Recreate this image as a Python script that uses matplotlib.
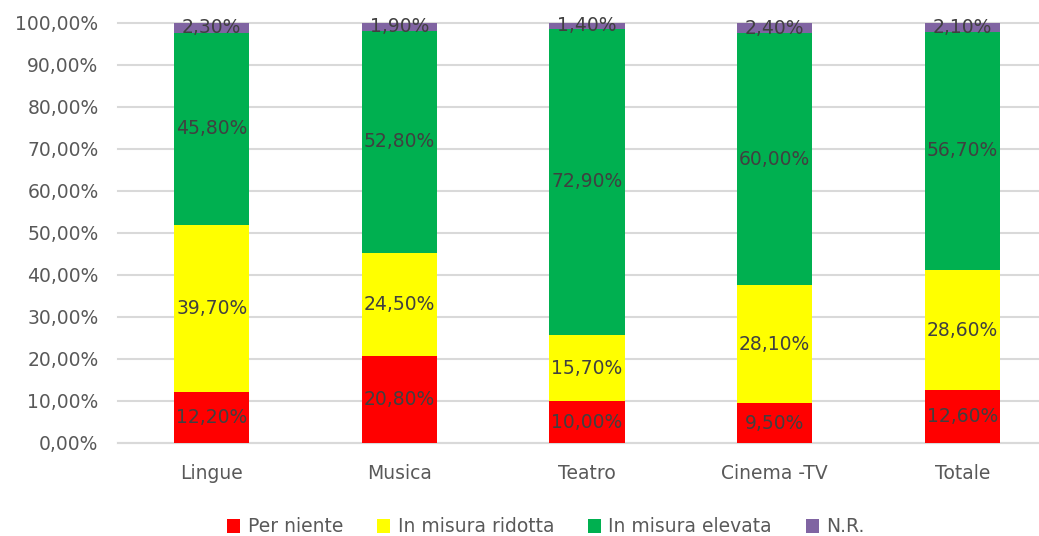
import numpy as np
import matplotlib.pyplot as plt

categories = ["Lingue", "Musica", "Teatro", "Cinema -TV", "Totale"]
series_names = ["Per niente", "In misura ridotta", "In misura elevata", "N.R."]
per_niente = [12.2, 20.8, 10.0, 9.5, 12.6]
ridotta = [39.7, 24.5, 15.7, 28.1, 28.6]
elevata = [45.8, 52.8, 72.9, 60.0, 56.7]
nr = [2.3, 1.9, 1.4, 2.4, 2.1]
colors = ["#FF0000", "#FFFF00", "#00B050", "#8064A2"]


def pct(v, decimals=2):
    return f"{v:.{decimals}f}".replace(".", ",") + "%"


fs = 13.5
fig = plt.figure(figsize=(10.39, 5.36), dpi=100)
ax = fig.add_axes([118 / 1039, 93 / 536, 938 / 1039, 420 / 536])

x = np.arange(len(categories))
bottom = np.zeros(len(categories))
for name, vals, col in zip(series_names, [per_niente, ridotta, elevata, nr], colors):
    vals = np.array(vals)
    ax.bar(x, vals, 0.4, bottom=bottom, color=col, label=name, zorder=3)
    for xi, b, v in zip(x, bottom, vals):
        ax.text(xi, b + v / 2, pct(v), ha="center", va="center",
                fontsize=fs, color="#404040", zorder=4)
    bottom += vals

ax.set_xlim(-0.5, len(categories) - 0.5)
ax.set_ylim(0, 100)
ax.set_yticks(np.arange(0, 101, 10))
ax.set_yticklabels([pct(v) for v in np.arange(0, 101, 10)])
ax.set_xticks(x)
ax.set_xticklabels(categories)
ax.tick_params(axis="both", length=0, labelsize=fs, colors="#595959")
ax.tick_params(axis="x", pad=15)
ax.tick_params(axis="y", pad=14)
ax.grid(axis="y", color="#D9D9D9", linewidth=1.5, zorder=0, clip_on=False)
for s in ["top", "right", "left"]:
    ax.spines[s].set_visible(False)
ax.spines["bottom"].set_color("#D9D9D9")
ax.spines["bottom"].set_linewidth(1.5)

fig.legend(loc="center", bbox_to_anchor=(546 / 1039, 9 / 536), ncol=4,
           frameon=False, fontsize=fs, handlelength=0.7, handleheight=0.7,
           columnspacing=1.8, handletextpad=0.4, labelcolor="#595959")

fig.savefig("out.png", dpi=100)
